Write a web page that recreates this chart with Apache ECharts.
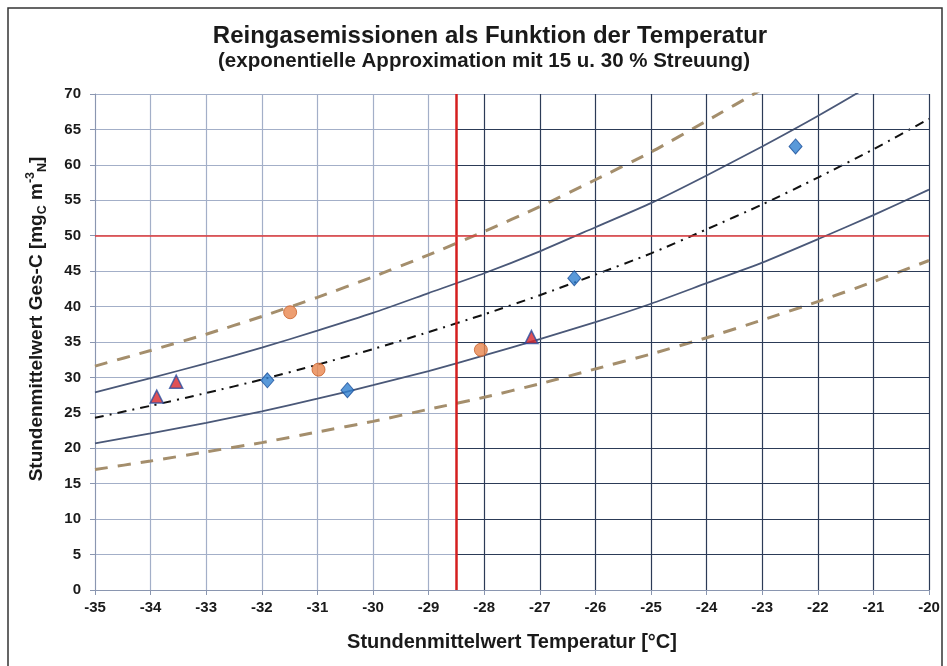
<!DOCTYPE html>
<html><head><meta charset="utf-8">
<script src="https://cdn.jsdelivr.net/npm/echarts@6/dist/echarts.min.js"></script>
<style>html,body{margin:0;padding:0;background:#fff}#c{width:947px;height:666px}</style>
</head><body><div id="c"></div>
<script>
// ---- data ----
const xTicks = [-35,-34,-33,-32,-31,-30,-29,-28,-27,-26,-25,-24,-23,-22,-21,-20];
const yTicks = [0,5,10,15,20,25,30,35,40,45,50,55,60,65,70];
// curve values read at each integer temperature
const central  = [24.3,26.0,27.8,29.7,31.8,34.0,36.4,38.9,41.6,44.5,47.5,50.9,54.4,58.2,62.2,66.5];
const upper15  = [27.9,29.9,32.0,34.2,36.6,39.1,41.9,44.7,47.8,51.2,54.6,58.5,62.6,66.9,71.5,76.5];
const lower15  = [20.7,22.1,23.6,25.2,27.0,28.9,30.9,33.1,35.4,37.8,40.4,43.3,46.2,49.5,52.9,56.5];
const upper30  = [31.6,33.8,36.1,38.6,41.3,44.2,47.3,50.6,54.1,57.9,61.8,66.2,70.7,75.7,80.9,86.5];
const lower30  = [17.0,18.2,19.5,20.8,22.3,23.8,25.5,27.2,29.1,31.2,33.3,35.6,38.1,40.7,43.5,46.5];
const triangles = [[-33.89,27.3],[-33.54,29.4],[-27.15,35.7]];
const circles   = [[-31.49,39.2],[-30.98,31.1],[-28.06,33.9]];
const diamonds  = [[-31.90,29.6],[-30.46,28.2],[-26.38,44.0],[-22.40,62.6]];
const limitTemp = -28.5;
const limitConc = 50;

// ---- build ----
const lightGrid = '#a3afc8', darkGrid = '#2c3b57';
const vColors = xTicks.map(t => t > limitTemp ? darkGrid : lightGrid);
const pairs = arr => xTicks.map((x,i)=>[x,arr[i]]);
const curveBase = {type:'line', showSymbol:false, symbol:'none', smooth:0.2, clip:true, silent:true};
const FF = '"Liberation Sans", Arial, sans-serif';

const chart = echarts.init(document.getElementById('c'), null, {renderer:'canvas'});
chart.setOption({
  animation:false,
  backgroundColor:'#fff',
  graphic:[
    {type:'rect', shape:{x:8,y:8,width:934,height:690}, style:{fill:'none',stroke:'#333',lineWidth:1.5}, z:-1},
    {type:'text', x:490, y:24, style:{text:'Reingasemissionen als Funktion der Temperatur', font:'bold 24px ' + FF, fill:'#1a1a1a', align:'center'}},
    {type:'text', x:484, y:51, style:{text:'(exponentielle Approximation mit 15 u. 30 % Streuung)', font:'bold 20.5px ' + FF, fill:'#1a1a1a', align:'center'}}
  ],
  grid:{left:95, right:18, top:94, bottom:76, containLabel:false},
  xAxis:{
    type:'value', min:-35, max:-20, interval:1,
    name:'Stundenmittelwert Temperatur [°C]', nameLocation:'middle', nameGap:42,
    nameTextStyle:{fontFamily:FF, fontSize:20, fontWeight:'bold', color:'#1a1a1a'},
    axisLine:{show:true, lineStyle:{color:'#8a96b0', width:1}},
    axisTick:{show:true, length:5, inside:false, lineStyle:{color:'#8a96b0'}},
    axisLabel:{color:'#1a1a1a', fontSize:15, fontWeight:'bold', fontFamily:FF, margin:10},
    splitLine:{show:true, lineStyle:{color:vColors, width:1.2}}
  },
  yAxis:{
    type:'value', min:0, max:70, interval:5,
    name:'{a|Stundenmittelwert Ges-C [mg}{s|C}{a| m}{p|-3}{s|N}{a|]}', nameLocation:'middle', nameGap:46, nameRotate:90,
    nameTextStyle:{padding:[0,0,0,46], rich:{
      a:{fontFamily:FF, fontSize:19, fontWeight:'bold', color:'#1a1a1a'},
      s:{fontFamily:FF, fontSize:12.5, fontWeight:'bold', color:'#1a1a1a', padding:[12,0,0,0]},
      p:{fontFamily:FF, fontSize:12.5, fontWeight:'bold', color:'#1a1a1a', padding:[0,0,12,0]}
    }},
    axisLine:{show:true, lineStyle:{color:'#8a96b0', width:1}},
    axisTick:{show:true, length:5, lineStyle:{color:'#8a96b0'}},
    axisLabel:{color:'#1a1a1a', fontSize:15, fontWeight:'bold', fontFamily:FF, margin:14},
    splitLine:{show:true, lineStyle:{color:lightGrid, width:1.2}}
  },
  series:[
    {type:'line', data:[], silent:true,
     markLine:{silent:true, symbol:'none', label:{show:false}, animation:false,
       lineStyle:{color:darkGrid, width:1.2, type:'solid'},
       data: yTicks.filter(v=>v>0 && v<70 && v!==limitConc).map(v=>[{coord:[limitTemp,v]},{coord:[-20,v]}])}},
    Object.assign({}, curveBase, {name:'+30%', data:pairs(upper30), lineStyle:{color:'#a48e6c', width:3, type:[13,10]}}),
    Object.assign({}, curveBase, {name:'-30%', data:pairs(lower30), lineStyle:{color:'#a48e6c', width:3, type:[13,10]}}),
    Object.assign({}, curveBase, {name:'+15%', data:pairs(upper15), lineStyle:{color:'#4a5878', width:1.8, type:'solid'}}),
    Object.assign({}, curveBase, {name:'-15%', data:pairs(lower15), lineStyle:{color:'#4a5878', width:1.8, type:'solid'}}),
    Object.assign({}, curveBase, {name:'Mittel', data:pairs(central), lineStyle:{color:'#111', width:2, type:[9,6,2,6]}}),
    {type:'line', data:[], silent:true,
     markLine:{silent:true, symbol:'none', label:{show:false}, animation:false,
       data:[
         {xAxis:limitTemp, lineStyle:{color:'#d41f1f', width:2.5, type:'solid'}},
         {yAxis:limitConc, lineStyle:{color:'#e03a3a', width:1.5, type:'solid'}}
       ]}},
    {type:'scatter', name:'Kreise', data:circles, symbol:'circle', symbolSize:13,
     itemStyle:{color:'#e8864e', borderColor:'#c8602a', borderWidth:1}, z:5},
    {type:'scatter', name:'Rauten', data:diamonds, symbol:'diamond', symbolSize:[13,15],
     itemStyle:{color:'#2f7fd0', borderColor:'#1a4f9a', borderWidth:1}, z:5},
    {type:'scatter', name:'Dreiecke', data:triangles, symbol:'triangle', symbolSize:[13,13],
     itemStyle:{color:'#d8262a', borderColor:'#2a4fa0', borderWidth:1.5}, z:5}
  ]
});
</script></body></html>
